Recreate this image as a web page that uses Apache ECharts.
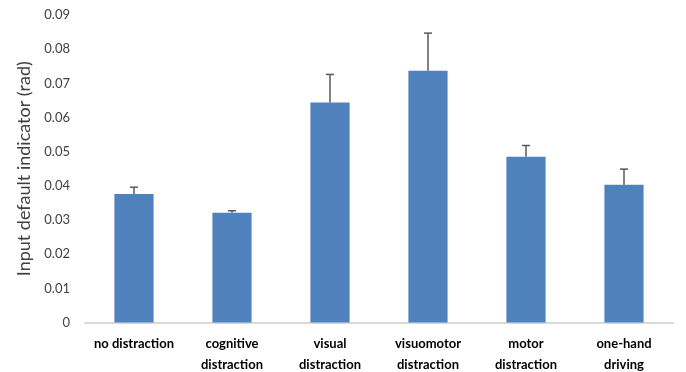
<!DOCTYPE html>
<html>
<head>
<meta charset="utf-8">
<script src="https://cdn.jsdelivr.net/npm/echarts@6/dist/echarts.min.js"></script>
<style>
  html, body { margin: 0; padding: 0; background: #fff; }
  #chart { width: 686px; height: 372px; }
</style>
</head>
<body>
<div id="chart"></div>
<script>
// values
const categories = ['no distraction', 'cognitive\ndistraction', 'visual\ndistraction',
  'visuomotor\ndistraction', 'motor\ndistraction', 'one-hand\ndriving'];
const means = [0.0376, 0.0321, 0.0644, 0.0737, 0.0485, 0.0403];
const errors = [0.0020, 0.0006, 0.0082, 0.0110, 0.0033, 0.0046];

const errorData = categories.map((c, i) => [i, means[i], means[i] + errors[i]]);

const chart = echarts.init(document.getElementById('chart'));
chart.setOption({
  animation: false,
  grid: { left: 85, right: 13, top: 15, bottom: 49.5, outerBoundsMode: 'none' },
  xAxis: {
    type: 'category',
    data: categories,
    axisLine: { lineStyle: { color: '#d9d9d9', width: 2 } },
    axisTick: { show: false },
    axisLabel: {
      interval: 0,
      color: '#000',
      fontFamily: 'Lato',
      fontWeight: 'bold',
      fontSize: 13,
      lineHeight: 21,
      margin: 11
    }
  },
  yAxis: {
    type: 'value',
    min: 0,
    max: 0.09,
    interval: 0.01,
    name: 'Input default indicator (rad)',
    nameLocation: 'middle',
    nameGap: 50,
    nameTextStyle: { color: '#404040', fontFamily: 'Lato', fontSize: 18 },
    splitLine: { show: false },
    axisLine: { show: false },
    axisTick: { show: false },
    axisLabel: {
      color: '#404040',
      fontFamily: 'Lato',
      fontSize: 13,
      margin: 15,
      formatter: v => v === 0 ? '0' : v.toFixed(2)
    }
  },
  series: [
    {
      type: 'bar',
      data: means,
      barWidth: '40%',
      itemStyle: { color: '#4f81bd' }
    },
    {
      type: 'custom',
      data: errorData,
      z: 3,
      renderItem: function (params, api) {
        const base = api.coord([api.value(0), api.value(1)]);
        const top = api.coord([api.value(0), api.value(2)]);
        const half = 4;
        const style = { stroke: '#595959', lineWidth: 1.5 };
        return {
          type: 'group',
          children: [
            { type: 'line', shape: { x1: base[0], y1: base[1], x2: top[0], y2: top[1] }, style },
            { type: 'line', shape: { x1: top[0] - half, y1: top[1], x2: top[0] + half, y2: top[1] }, style }
          ]
        };
      }
    }
  ]
});
</script>
</body>
</html>
